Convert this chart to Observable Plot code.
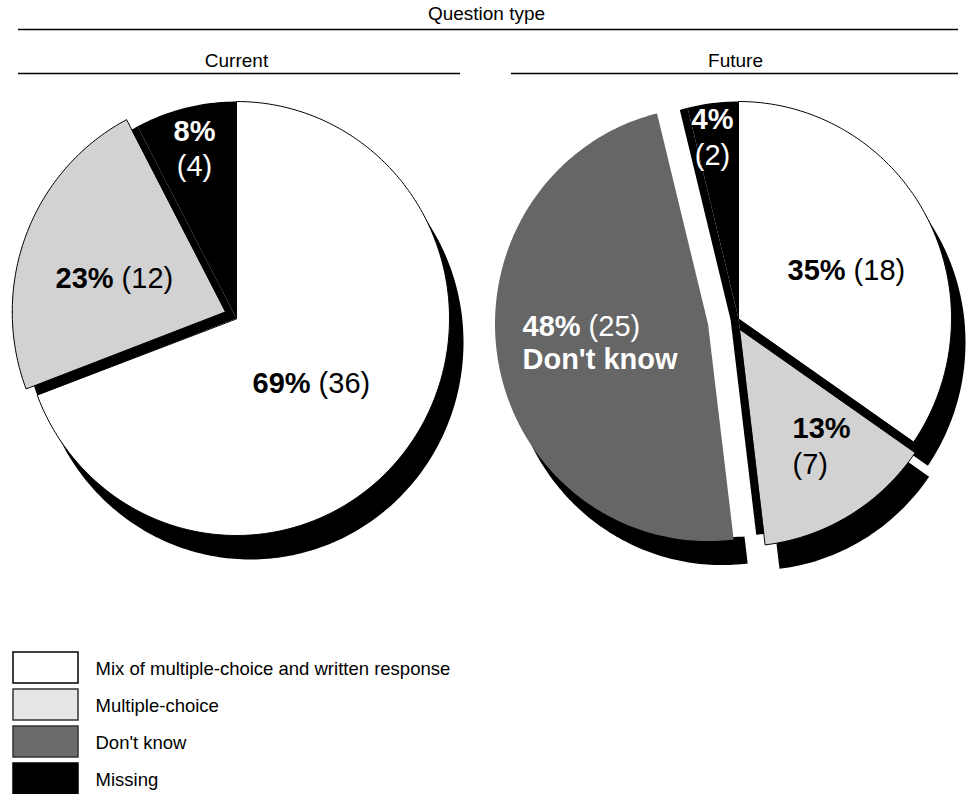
<!DOCTYPE html>
<html>
<head>
<meta charset="utf-8">
<script src="https://cdn.jsdelivr.net/npm/d3@7"></script>
<script src="https://cdn.jsdelivr.net/npm/@observablehq/plot@0.6"></script>
<style>
  html, body { margin: 0; padding: 0; background: #ffffff; }
  #chart svg { display: block; }
</style>
</head>
<body>
<div id="chart"></div>
<script>
// ---------------- DATA ----------------
const categories = ["Mix of multiple-choice and written response", "Multiple-choice", "Don't know", "Missing"];
const currentCounts = [36, 12, 0, 4];
const currentPercents = [69, 23, 0, 8];
const futureCounts = [18, 7, 25, 2];
const futurePercents = [35, 13, 48, 4];
const panelTitles = ["Current", "Future"];
const headerTitle = "Question type";

// ---------------- LAYOUT & STYLE ----------------
const W = 972, H = 794;
const FONT = "'Liberation Sans', Arial, Helvetica, sans-serif";
const sliceFill = ["#ffffff", "#d2d2d2", "#666666", "#000000"];
const sliceStroke = ["#000000", "#000000", "none", "none"];
const labelInk = ["#000000", "#000000", "#ffffff", "#ffffff"];
const legendFill = ["#ffffff", "#e6e6e6", "#6b6b6b", "#000000"];
const legendStroke = ["#000000", "#333333", "#333333", "#000000"];
const RX = 213, RY = 217;          // pie radii
const SHADOW = [14, 24];           // depth offset of the pie side
const LABEL_SIZE = 29;
// explodeAt: "mid", "end" or a compass angle in degrees (clockwise from 12 o'clock)
const pieLayout = [
  {cx: 236, cy: 318, titleX: 236, ruleX: [18, 460],
   explode: [0, 13, 0, 0], explodeAt: ["mid", 300, "mid", "mid"], cutout: [0, 0, 0, 0], shadow: [true, false, true, true],
   labels: [{x: 252, y: 392, mode: "inline"}, {x: 55, y: 287, mode: "inline"}, null, {x: 194, y: 140, y2: 175, mode: "stack"}]},
  {cx: 738, cy: 318, titleX: 735, ruleX: [511, 958],
   explode: [0, 11, 31, 0], explodeAt: ["mid", "end", "mid", "mid"], cutout: [0, 0, 8, 0], shadow: [true, true, true, true],
   labels: [{x: 787, y: 279, mode: "inline"}, {x: 792, y: 437, y2: 473, mode: "stackLeft"}, {x: 522, y: 335, y2: 368, mode: "inlineName"}, {x: 712, y: 128, y2: 164, mode: "stack"}]}
];
const pieData = [
  {counts: currentCounts, percents: currentPercents},
  {counts: futureCounts, percents: futurePercents}
];

// ---------------- GEOMETRY ----------------
function wedge(cx, cy, a0, a1, dx = 0, dy = 0) {
  const pts = [[cx + dx, cy + dy]];
  const n = Math.max(2, Math.ceil((a1 - a0) / (Math.PI / 180)));
  for (let i = 0; i <= n; i++) {
    const a = a0 + (a1 - a0) * i / n;
    pts.push([cx + dx + RX * Math.sin(a), cy + dy - RY * Math.cos(a)]);
  }
  return pts;
}

const layers = {shadow: [], underlay: [], cutout: [], slice: []};
const labelRows = [];
const ctx = document.createElement("canvas").getContext("2d");
function tw(text, weight) { ctx.font = `${weight} ${LABEL_SIZE}px ${FONT}`; return ctx.measureText(text).width; }

pieData.forEach((pd, p) => {
  const L = pieLayout[p];
  const arcs = d3.pie().sort(null).value(d => d)(pd.counts);
  arcs.forEach((a, i) => {
    if (a.value <= 0) return;
    const at = L.explodeAt[i];
    const dirA = typeof at === "number" ? at * Math.PI / 180 : at === "end" ? a.endAngle : (a.startAngle + a.endAngle) / 2;
    const ex = L.explode[i] * Math.sin(dirA), ey = -L.explode[i] * Math.cos(dirA);
    if (L.shadow[i]) layers.shadow.push({pts: wedge(L.cx, L.cy, a.startAngle, a.endAngle, ex + SHADOW[0], ey + SHADOW[1]), fill: "#000000", stroke: "none"});
    if (L.explode[i] > 0) layers.underlay.push({pts: wedge(L.cx, L.cy, a.startAngle, a.endAngle), fill: "#000000", stroke: "none"});
    if (L.cutout[i] > 0) {
      const cx_ = L.cutout[i] * Math.sin(dirA), cy_ = -L.cutout[i] * Math.cos(dirA);
      layers.cutout.push({pts: wedge(L.cx, L.cy, a.startAngle, a.endAngle, cx_, cy_), fill: "#ffffff", stroke: "none"});
    }
    layers.slice.push({pts: wedge(L.cx, L.cy, a.startAngle, a.endAngle, ex, ey), fill: sliceFill[i], stroke: sliceStroke[i]});

    const lab = L.labels[i];
    if (!lab) return;
    const pct = `${pd.percents[i]}%`, cnt = `(${a.value})`, ink = labelInk[i];
    if (lab.mode === "inline" || lab.mode === "inlineName") {
      labelRows.push({x: lab.x, y: lab.y, text: pct, bold: true, anchor: "start", ink});
      labelRows.push({x: lab.x + tw(pct, "bold") + tw(" ", "normal"), y: lab.y, text: cnt, bold: false, anchor: "start", ink});
      if (lab.mode === "inlineName") labelRows.push({x: lab.x, y: lab.y2, text: categories[i], bold: true, anchor: "start", ink});
    } else {
      const anchor = lab.mode === "stack" ? "middle" : "start";
      labelRows.push({x: lab.x, y: lab.y, text: pct, bold: true, anchor, ink});
      labelRows.push({x: lab.x, y: lab.y2, text: cnt, bold: false, anchor, ink});
    }
  });
});

function polyMarks(list) {
  return list.map(s => Plot.line(s.pts, {
    x: d => d[0], y: d => d[1], curve: "linear-closed",
    fill: s.fill, stroke: s.stroke, strokeWidth: 1
  }));
}

const headerRules = [{y: 29, x1: 18, x2: 958}, ...pieLayout.map(L => ({y: 73, x1: L.ruleX[0], x2: L.ruleX[1]}))];
const headerTexts = [{x: 486, y: 19, text: headerTitle}, ...pieLayout.map((L, p) => ({x: L.titleX, y: 66, text: panelTitles[p]}))];

const textMark = (rows, anchor, weight) => Plot.text(rows.filter(r => r.anchor === anchor && r.bold === (weight === "bold")), {
  x: "x", y: "y", text: "text", fill: "ink", textAnchor: anchor, lineAnchor: "bottom",
  fontSize: LABEL_SIZE, fontWeight: weight, fontFamily: FONT
});

const chart = Plot.plot({
  width: W, height: H,
  marginTop: 0, marginRight: 0, marginBottom: 0, marginLeft: 0,
  x: {domain: [0, W], range: [0, W], axis: null},
  y: {domain: [0, H], range: [0, H], axis: null},
  color: {type: "identity"},
  style: {fontFamily: FONT, background: "#ffffff", overflow: "visible"},
  marks: [
    Plot.ruleY(headerRules, {y: "y", x1: "x1", x2: "x2", stroke: "#000000", strokeWidth: 1.5}),
    Plot.text(headerTexts, {x: "x", y: "y", text: "text", lineAnchor: "bottom", fontSize: 19, fill: "#000000", fontFamily: FONT}),
    ...polyMarks(layers.shadow),
    ...polyMarks(layers.underlay),
    ...polyMarks(layers.cutout),
    ...polyMarks(layers.slice),
    textMark(labelRows, "start", "bold"),
    textMark(labelRows, "start", "normal"),
    textMark(labelRows, "middle", "bold"),
    textMark(labelRows, "middle", "normal"),
    Plot.rect(categories, {
      x1: () => 13, x2: () => 78,
      y1: (d, i) => 652 + i * 37, y2: (d, i) => 683 + i * 37,
      fill: (d, i) => legendFill[i], stroke: (d, i) => legendStroke[i], strokeWidth: 1.5
    }),
    Plot.text(categories, {
      x: () => 95, y: (d, i) => 669 + i * 37, text: d => d,
      textAnchor: "start", lineAnchor: "middle", fontSize: 18.5, fill: "#000000", fontFamily: FONT
    })
  ]
});
document.getElementById("chart").appendChild(chart);
</script>
</body>
</html>
